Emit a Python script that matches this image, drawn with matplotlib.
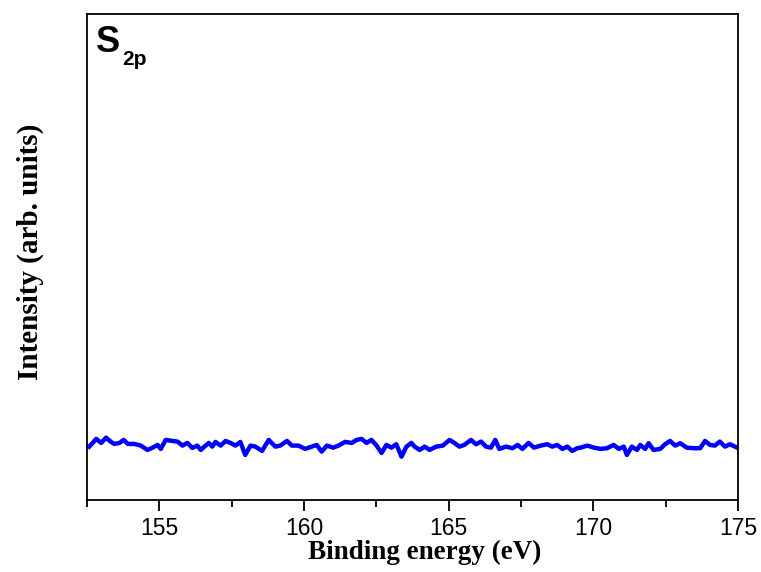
import numpy as np
import matplotlib.pyplot as plt
from matplotlib.ticker import MultipleLocator

# binding energy (eV) and intensity (arb. units)
energy = [152.58, 152.82, 152.99, 153.16, 153.33, 153.44, 153.62, 153.77, 153.91, 154.13,
          154.36, 154.59, 154.77, 154.94, 155.05, 155.22, 155.45, 155.63, 155.80, 155.97,
          156.14, 156.31, 156.43, 156.60, 156.71, 156.83, 156.94, 157.12, 157.29, 157.46,
          157.63, 157.80, 157.97, 158.15, 158.32, 158.55, 158.78, 159.01, 159.18, 159.41,
          159.58, 159.81, 160.04, 160.27, 160.44, 160.61, 160.79, 161.01, 161.19, 161.42,
          161.65, 161.82, 161.99, 162.16, 162.33, 162.51, 162.68, 162.85, 163.02, 163.19,
          163.37, 163.54, 163.71, 163.82, 164.00, 164.17, 164.34, 164.57, 164.80, 165.03,
          165.20, 165.37, 165.54, 165.77, 165.95, 166.12, 166.29, 166.46, 166.61, 166.75,
          166.98, 167.21, 167.38, 167.55, 167.76, 167.95, 168.18, 168.41, 168.58, 168.75,
          168.93, 169.10, 169.27, 169.44, 169.56, 169.79, 170.02, 170.25, 170.47, 170.70,
          170.88, 171.05, 171.16, 171.33, 171.51, 171.62, 171.79, 171.91, 172.08, 172.31,
          172.48, 172.65, 172.83, 173.00, 173.23, 173.46, 173.69, 173.86, 174.03, 174.20,
          174.37, 174.55, 174.72, 174.89, 175.00]
intensity = [109.8, 125.7, 117.4, 128.3, 119.5, 115.4, 117.4, 123.6, 115.4, 115.4,
             111.9, 103.0, 107.7, 113.3, 105.1, 123.6, 121.5, 120.1, 111.9, 117.4,
             107.1, 111.9, 103.0, 111.9, 117.4, 109.8, 119.5, 111.9, 121.5, 117.4,
             111.9, 119.5, 92.7, 111.9, 109.8, 100.9, 123.6, 109.8, 111.9, 121.5,
             111.9, 111.9, 105.1, 109.8, 113.3, 99.5, 111.9, 107.7, 111.9, 119.5,
             117.4, 123.6, 125.7, 117.4, 123.6, 111.9, 96.8, 113.3, 107.7, 114.7,
             89.2, 109.8, 117.4, 109.8, 103.0, 109.8, 103.0, 109.8, 111.9, 123.6,
             117.4, 109.8, 113.3, 123.6, 114.7, 120.1, 109.8, 107.7, 123.6, 105.1,
             109.8, 106.5, 113.3, 105.1, 117.4, 107.7, 111.9, 114.7, 109.8, 113.3,
             105.1, 109.8, 100.9, 106.5, 107.7, 111.9, 107.7, 105.1, 106.5, 113.3,
             105.1, 109.8, 92.7, 109.8, 103.0, 113.3, 105.1, 116.8, 103.0, 105.1,
             114.7, 121.5, 111.9, 116.8, 107.7, 106.5, 106.5, 121.5, 113.3, 111.9,
             120.1, 109.8, 114.7, 109.8, 107.0]

fig = plt.figure(figsize=(7.61, 5.72), dpi=100)
ax = fig.add_axes([0.1143, 0.1259, 0.8555, 0.8497])

ax.plot(energy, intensity, color='#0000ff', lw=3.2)

ax.set_xlim(152.5, 175)
ax.set_ylim(0, 1000)
ax.xaxis.set_major_locator(MultipleLocator(5))
ax.xaxis.set_minor_locator(MultipleLocator(2.5))
ax.set_yticks([])
ax.tick_params(axis='x', which='major', direction='out', length=8, width=1.3,
               labelsize=16.5, pad=4)
ax.tick_params(axis='x', which='minor', direction='out', length=5, width=1.3)
for lbl in ax.get_xticklabels():
    lbl.set_family('Liberation Sans')
for s in ax.spines.values():
    s.set_linewidth(1.3)

ax.set_xlabel('Binding energy (eV)', family='Liberation Serif', fontweight='bold',
              fontsize=19.5)
ax.set_ylabel('Intensity (arb. units)', family='Liberation Serif', fontweight='bold',
              fontsize=21)
ax.xaxis.set_label_coords(0.519, -0.082)
ax.yaxis.set_label_coords(-0.066, 0.511)

ax.text(0.013, 0.978, 'S', transform=ax.transAxes, family='Liberation Sans',
        fontweight='bold', fontsize=26, va='top', ha='left')
ax.text(0.054, 0.925, '2p', transform=ax.transAxes, family='Liberation Sans',
        fontweight='bold', fontsize=15, va='top', ha='left')

plt.savefig('out.png', dpi=100)
plt.close()
